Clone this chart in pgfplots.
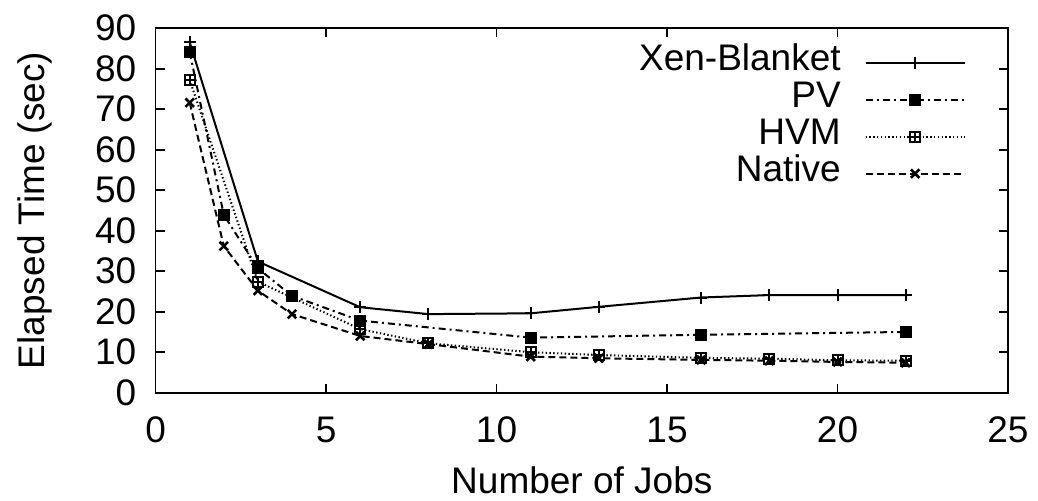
\documentclass[border=0pt]{standalone}
\usepackage{fontspec}
\setmainfont{Liberation Sans}
\usepackage{pgfplots}
\pgfplotsset{compat=1.18}
\pgfdeclareplotmark{boxplus}{%
  \pgfpathrectangle{\pgfqpoint{-\pgfplotmarksize}{-\pgfplotmarksize}}{\pgfqpoint{2\pgfplotmarksize}{2\pgfplotmarksize}}%
  \pgfpathmoveto{\pgfqpoint{-\pgfplotmarksize}{0pt}}\pgfpathlineto{\pgfqpoint{\pgfplotmarksize}{0pt}}%
  \pgfpathmoveto{\pgfqpoint{0pt}{-\pgfplotmarksize}}\pgfpathlineto{\pgfqpoint{0pt}{\pgfplotmarksize}}%
  \pgfusepathqstroke}
\begin{document}
\fontsize{18.5}{22}\selectfont
\begin{tikzpicture}
\useasboundingbox (-77.8pt,-53.65pt) rectangle (441.2pt,196.35pt);
\begin{axis}[
  at={(0pt,0pt)}, anchor=south west,
  scale only axis, width=426.2pt, height=182.3pt,
  xmin=0, xmax=25, ymin=0, ymax=90,
  xtick={0,5,10,15,20,25}, ytick={0,10,...,90},
  tick align=inside, major tick length=4.5pt,
  axis line style={line width=0.9pt}, tick style={line width=0.9pt, black},
  /pgf/number format/assume math mode=true,
  xticklabel style={anchor=center, yshift=-18.75pt},
  yticklabel style={anchor=east, inner sep=0pt, xshift=-9.5pt},
  xlabel={Number of Jobs}, ylabel={Elapsed Time (sec)},
  every axis x label/.style={at={(axis description cs:0.5,-0.2394)}, anchor=center},
  every axis y label/.style={at={(axis description cs:-0.1416,0.5)}, rotate=90, anchor=center},
  legend cell align=right, legend plot pos=right,
  legend style={draw=none, fill=none, inner sep=0pt, outer sep=0pt,
    at={(rel axis cs:1,1)}, xshift=-21.15pt, yshift=-8pt, anchor=north east,
    column sep=12pt, row sep=0pt,
    nodes={inner sep=0pt, text height=13pt, text depth=5.5pt}},
  legend image code/.code={\draw[mark repeat=2,mark phase=2] plot coordinates {(0pt,0pt) (24.75pt,0pt) (49.5pt,0pt)};},
  every axis plot/.append style={black, line width=1pt, mark options={solid}},
]
\addplot[mark=+, mark size=3pt] coordinates {
 (1,86.5)(3,32.4)(6,21.1)(8,19.4)(11,19.6)(13,21.2)(16,23.5)(18,24.1)(20,24.1)(22,24.1)};
\addlegendentry{Xen-Blanket}
\addplot[mark=square*, mark size=2.5pt, dash pattern=on 3.5pt off 2pt on 1pt off 2pt] coordinates {
 (1,84.1)(2,43.9)(3,30.7)(4,23.9)(6,17.8)(11,13.6)(16,14.3)(22,15.0)};
\addlegendentry{PV}
\addplot[mark=boxplus, mark size=2.5pt, dash pattern=on 0.7pt off 1.2pt] coordinates {
 (1,77.2)(3,27.4)(6,15.7)(8,12.2)(11,10.0)(13,9.3)(16,8.6)(18,8.4)(20,8.0)(22,7.9)};
\addlegendentry{HVM}
\addplot[mark=x, mark size=3pt, mark options={solid, line width=1.3pt}, dash pattern=on 3.5pt off 2pt] coordinates {
 (1,71.6)(2,36.2)(3,25.2)(4,19.4)(6,14.0)(8,12.0)(11,8.9)(13,8.5)(16,8.1)(18,7.9)(20,7.6)(22,7.4)};
\addlegendentry{Native}
\end{axis}
\end{tikzpicture}
\end{document}
